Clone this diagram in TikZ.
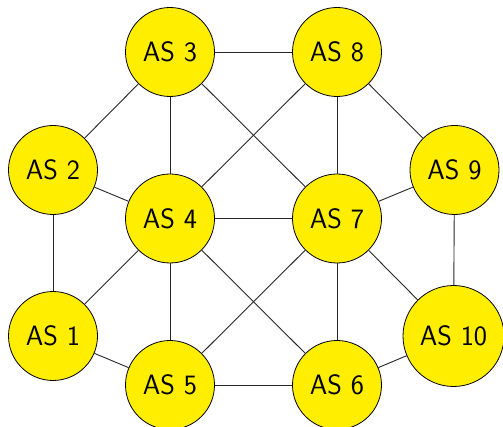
\documentclass[tikz,border=0pt]{standalone}
\definecolor{asyellow}{RGB}{255,238,0}
\begin{document}
\begin{tikzpicture}[x=1pt,y=-1pt,
  asnode/.style={circle,draw=black,line width=0.8pt,fill=asyellow,minimum size=89pt,inner sep=0pt,
    font=\sffamily\fontsize{28}{30}\selectfont},
  link/.style={draw=black!85,line width=0.9pt}]
\useasboundingbox (0,0) rectangle (503,427);
\node[asnode] (a3) at (170,52) {AS 3};
\node[asnode] (a8) at (337,52) {AS 8};
\node[asnode] (a2) at (53,170) {AS 2};
\node[asnode] (a9) at (454.5,170) {AS 9};
\node[asnode] (a4) at (170,218.5) {AS 4};
\node[asnode] (a7) at (337,218.5) {AS 7};
\node[asnode] (a1) at (53,336) {AS 1};
\node[asnode,minimum size=101pt] (a10) at (453.5,336) {AS 10};
\node[asnode] (a5) at (170,385) {AS 5};
\node[asnode] (a6) at (337,385) {AS 6};
\foreach \u/\v in {a3/a8,a3/a2,a3/a4,a3/a7,a8/a4,a8/a7,a8/a9,a2/a4,a2/a1,a4/a7,a4/a1,a4/a5,a4/a6,a7/a9,a7/a5,a7/a6,a7/a10,a9/a10,a1/a5,a5/a6,a6/a10}
  \draw[link] (\u) -- (\v);
\end{tikzpicture}
\end{document}
